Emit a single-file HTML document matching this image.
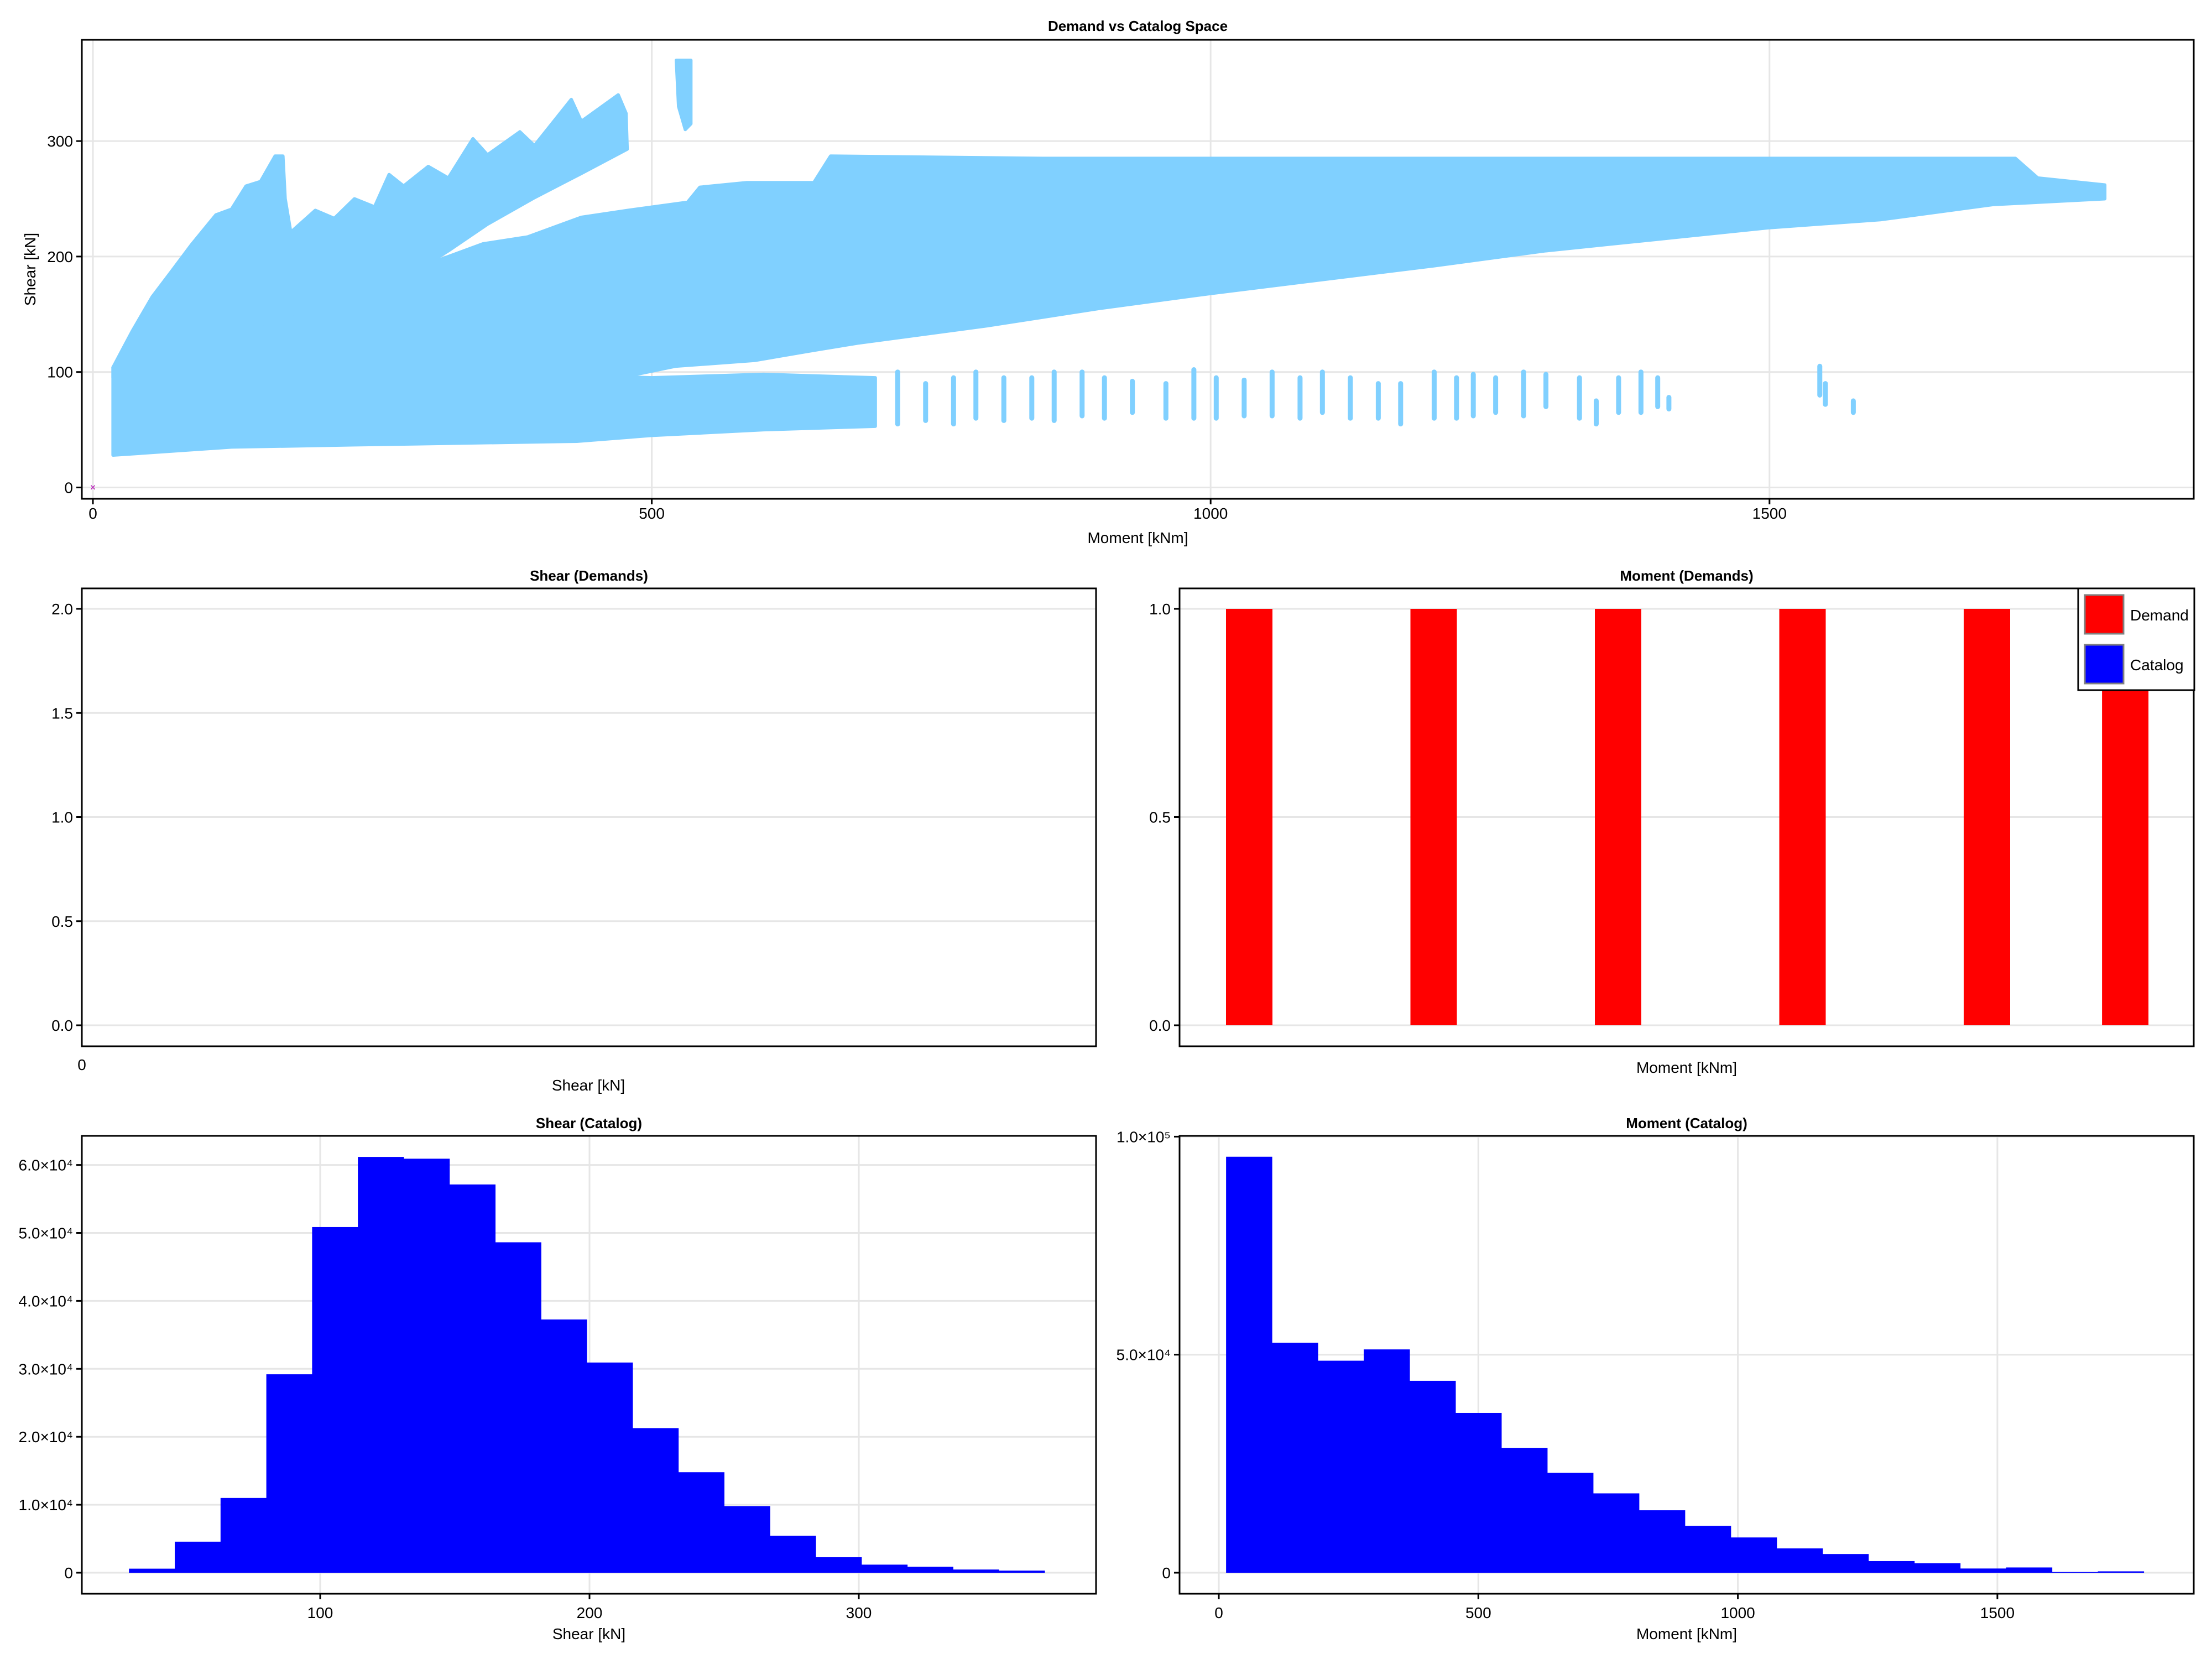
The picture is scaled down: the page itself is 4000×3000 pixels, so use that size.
<!DOCTYPE html>
<html><head><meta charset="utf-8"><style>
html,body{margin:0;padding:0;background:#fff;}
svg{display:block;font-family:"Liberation Sans",Arial,sans-serif;}
</style></head><body>
<svg id="fig" width="4000" height="3000" viewBox="0 0 4000 3000" xmlns="http://www.w3.org/2000/svg"></svg>
<script>
// ---------- data ----------
const scatterMainCloud = [[18,95],[60,88],[100,84],[200,82],[300,84],[433,92],[486,98],[521,105],[592,110],[640,118],[684,125],[800,140],[900,155],[1000,168],[1100,180],[1200,192],[1300,205],[1400,215],[1500,225],[1600,232],[1700,245],[1800,250],[1800,262],[1740,268],[1720,285],[1500,285],[1200,285],[1000,285],[850,285],[660,287],[645,264],[585,264],[543,260],[532,247],[479,240],[437,234],[389,217],[349,211],[307,196],[270,188],[239,174],[205,166],[181,154],[150,145],[133,135],[124,120],[110,113],[84,100],[18,104]];
const scatterLeftFan = [[18,104],[35,135],[53,165],[71,188],[88,210],[110,236],[124,241],[137,261],[150,265],[163,287],[170,287],[172,250],[177,221],[199,240],[216,233],[234,250],[252,243],[265,271],[278,261],[300,278],[318,268],[340,302],[353,288],[382,308],[395,296],[428,336],[437,317],[470,340],[477,324],[478,293],[437,272],[395,251],[353,228],[318,205],[300,194],[265,184],[205,160],[181,148],[150,138],[133,128],[124,115],[110,108],[84,96],[40,92]];
const scatterSpike = [[522,370],[535,370],[535,315],[530,310],[524,330]];
const scatterLowerBand = [[18,28],[124,35],[239,37],[433,40],[499,45],[600,50],[700,53],[700,95],[600,98],[500,95],[400,98],[300,95],[200,98],[100,102],[40,104],[18,104]];
const scatterStripes = [[720,55,100],[745,58,90],[770,55,95],[790,60,100],[815,58,95],[840,60,95],[860,58,100],[885,62,100],[905,60,95],[930,65,92],[960,60,90],[985,60,102],[1005,60,95],[1030,62,93],[1055,62,100],[1080,60,95],[1100,65,100],[1125,60,95],[1150,60,90],[1170,55,90],[1200,60,100],[1220,60,95],[1235,62,98],[1255,65,95],[1280,62,100],[1300,70,98],[1330,60,95],[1345,55,75],[1365,65,95],[1385,65,100],[1400,70,95],[1410,68,78],[1545,80,105],[1550,72,90],[1575,65,75]];
const topXTicks = [0,500,1000,1500];
const topYTicks = [0,100,200,300];

const demandMomentX = [0,1,2,3,4,4.75];
const demandMomentCounts = [1,1,1,1,1,1];
const demandYTicks = [0,0.5,1.0];
const demandYTickLabels = ["0.0","0.5","1.0"];
const shearDemandYTicks = [0,0.5,1.0,1.5,2.0];
const shearDemandYTickLabels = ["0.0","0.5","1.0","1.5","2.0"];

const shearBinStart = 29, shearBinWidth = 17;
const shearCounts = [600,4570,11000,29200,50860,61180,60920,57130,48620,37260,30930,21280,14790,9810,5450,2280,1190,880,470,310];
const shearXTicks = [100,200,300];
const shearYTicks = [0,10000,20000,30000,40000,50000,60000];
const shearYTickLabels = ["0","1.0×10⁴","2.0×10⁴","3.0×10⁴","4.0×10⁴","5.0×10⁴","6.0×10⁴"];

const momentBinStart = 14, momentBinWidth = 88.4;
const momentCounts = [95390,52750,48620,51210,44010,36650,28640,22900,18200,14320,10760,8090,5580,4290,2670,2180,970,1210,160,320];
const momentXTicks = [0,500,1000,1500];
const momentYTicks = [0,50000,100000];
const momentYTickLabels = ["0","5.0×10⁴","1.0×10⁵"];

// ---------- helpers ----------
const NS="http://www.w3.org/2000/svg";
const svg=document.getElementById('fig');
function mk(tag,attrs,parent){const e=document.createElementNS(NS,tag);for(const k in attrs)e.setAttribute(k,attrs[k]);(parent||svg).appendChild(e);return e;}
function txt(s,x,y,size,anchor,weight,parent,rot){const t=mk('text',{x:x,y:y,'font-size':size,'text-anchor':anchor||'middle','font-weight':weight||'normal',fill:'#000'},parent);if(rot)t.setAttribute('transform',rot);t.textContent=s;return t;}
function lin(d0,d1,p0,p1){return v=>p0+(v-d0)/(d1-d0)*(p1-p0);}
const GRID='#e6e6e6';

function panel(name){const g=mk('g',{});return g;}
function box(g,L,R,T,B){const r=mk('rect',{x:L,y:T,width:R-L,height:B-T,fill:'none',stroke:'#000','stroke-width':3},g);}
function yAxis(g,ticks,labels,sy,L,R,grid){ticks.forEach((v,i)=>{const y=sy(v);if(grid){const gl=mk('line',{x1:L,x2:R,y1:y,y2:y,stroke:GRID,'stroke-width':3},g);}
 mk('line',{x1:L-10,x2:L,y1:y,y2:y,stroke:'#000','stroke-width':3},g);
 const t=txt(labels[i],L-16,y+10,28,'end','normal',g);});}
function xAxis(g,ticks,sx,T,B,grid,labelY){ticks.forEach(v=>{const x=sx(v);if(grid){const gl=mk('line',{x1:x,x2:x,y1:T,y2:B,stroke:GRID,'stroke-width':3},g);}
 mk('line',{x1:x,x2:x,y1:B,y2:B+10,stroke:'#000','stroke-width':3},g);
 const t=txt(String(v),x,labelY,28,'middle','normal',g);});}

// ---------- top scatter ----------
(function(){
 const L=148,R=3967,T=72,B=902;
 const g=panel('scatter-panel');
 const sx=lin(0,500,168,1178.6), sy=lin(0,100,881.5,672.7);
 const t=txt('Demand vs Catalog Space',(L+R)/2,56,26,'middle','bold',g);
 yAxis(g,topYTicks,topYTicks.map(String),sy,L,R,true);
 xAxis(g,topXTicks,sx,T,B,true,938);
 const col='#80d0ff';
 function poly(pts,name){const p=mk('polygon',{points:pts.map(q=>sx(q[0])+','+sy(q[1])).join(' '),fill:col,stroke:col,'stroke-width':6,'stroke-linejoin':'round'},g);}
 poly(scatterLowerBand,'catalog-lower-band');
 poly(scatterMainCloud,'catalog-main-cloud');
 poly(scatterLeftFan,'catalog-left-fan');
 poly(scatterSpike,'catalog-spike');
 scatterStripes.forEach(s=>{const l=mk('line',{x1:sx(s[0]),x2:sx(s[0]),y1:sy(s[1]),y2:sy(s[2]),stroke:col,'stroke-width':9,'stroke-linecap':'round'},g);});
 const dm=txt('×',sx(0),sy(0)+6,18,'middle','normal',g);dm.setAttribute('fill','#b000b0');
 box(g,L,R,T,B);
 const xl=txt('Moment [kNm]',(L+R)/2,982,28,'middle','normal',g);
 const yl=txt('Shear [kN]',0,0,28,'middle','normal',g,'translate(64,487) rotate(-90)');
})();

// ---------- shear demands (empty) ----------
(function(){
 const L=148,R=1982,T=1064,B=1892;
 const g=panel('shear-demands-panel');
 const sy=lin(0,2,1854,1101);
 const t=txt('Shear (Demands)',(L+R)/2,1050,26,'middle','bold',g);
 yAxis(g,shearDemandYTicks,shearDemandYTickLabels,sy,L,R,true);
 box(g,L,R,T,B);
 const x0=txt('0',L,1935,28,'middle','normal',g);
 const xl=txt('Shear [kN]',1064,1972,28,'middle','normal',g);
})();

// ---------- moment demands ----------
(function(){
 const L=2133,R=3967,T=1064,B=1892;
 const g=panel('moment-demands-panel');
 const sx=lin(0,1,2259,2592.5), sy=lin(0,1,1854,1101);
 const t=txt('Moment (Demands)',(L+R)/2,1050,26,'middle','bold',g);
 yAxis(g,demandYTicks,demandYTickLabels,sy,L,R,true);
 demandMomentX.forEach((v,i)=>{const w=84;const r=mk('rect',{x:sx(v)-w/2,y:sy(demandMomentCounts[i]),width:w,height:sy(0)-sy(demandMomentCounts[i]),fill:'#ff0000'},g);});
 box(g,L,R,T,B);
 const xl=txt('Moment [kNm]',(L+R)/2,1940,28,'middle','normal',g);
 const lg=mk('g',{},g);
 mk('rect',{x:3758,y:1064,width:210,height:184,fill:'#fff',stroke:'#000','stroke-width':3},lg);
 const s1=mk('rect',{x:3770,y:1076,width:70,height:70,fill:'#ff0000',stroke:'#808080','stroke-width':3},lg);
 const s2=mk('rect',{x:3770,y:1166,width:70,height:70,fill:'#0000ff',stroke:'#808080','stroke-width':3},lg);
 const l1=txt('Demand',3852,1122,28,'start','normal',lg);
 const l2=txt('Catalog',3852,1212,28,'start','normal',lg);
})();

// ---------- histograms ----------
function hist(name,title,L,R,T,B,sx,sy,start,width,counts,xt,yt,ytl){
 const g=panel(name);
 const t=txt(title,(L+R)/2,2040,26,'middle','bold',g);
 yAxis(g,yt,ytl,sy,L,R,true);
 xt.forEach(v=>{const gl=mk('line',{x1:sx(v),x2:sx(v),y1:T,y2:B,stroke:GRID,'stroke-width':3},g);});
 counts.forEach((c,i)=>{const x0=sx(start+i*width),x1=sx(start+(i+1)*width);const r=mk('rect',{x:x0,y:sy(c),width:x1-x0+0.5,height:sy(0)-sy(c),fill:'#0000ff'},g);});
 xAxis(g,xt,sx,T,B,false,2926);
 box(g,L,R,T,B);
 const xl=txt(name.startsWith('shear')?'Shear [kN]':'Moment [kNm]',(L+R)/2,2964,28,'middle','normal',g);
}
hist('shear-catalog','Shear (Catalog)',148,1982,2054,2882,lin(100,200,579,1066),lin(0,10000,2844,2721.1),shearBinStart,shearBinWidth,shearCounts,shearXTicks,shearYTicks,shearYTickLabels);
hist('moment-catalog','Moment (Catalog)',2133,3967,2054,2882,lin(0,500,2204,2673.3),lin(0,50000,2844,2449.7),momentBinStart,momentBinWidth,momentCounts,momentXTicks,momentYTicks,momentYTickLabels);
</script>
</body></html>
